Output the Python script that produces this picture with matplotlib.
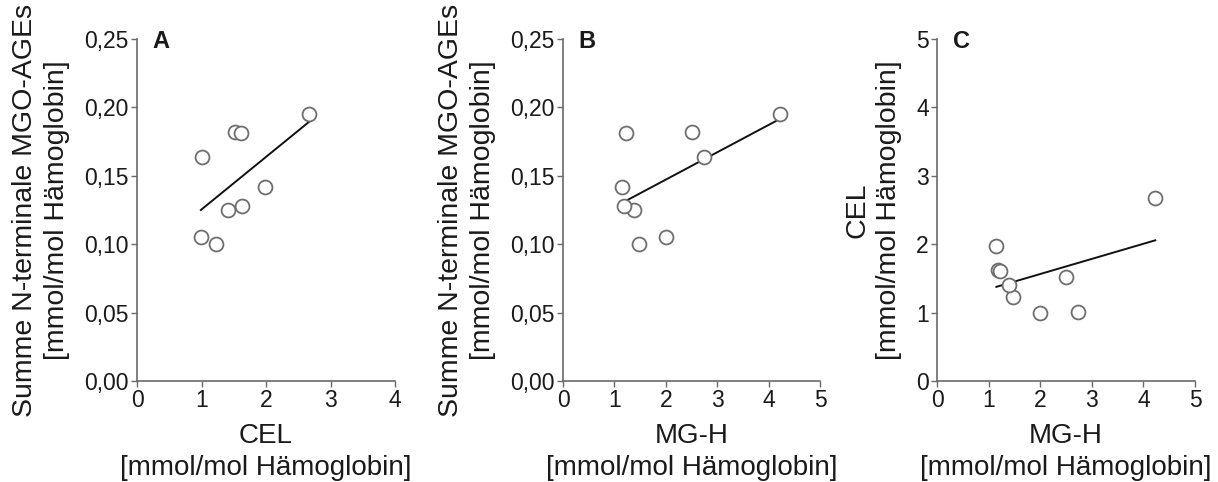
import numpy as np
import matplotlib
matplotlib.use("Agg")
import matplotlib.pyplot as plt
from matplotlib.ticker import FuncFormatter

plt.rcParams['font.family'] = ['Liberation Sans', 'DejaVu Sans']

# Per-sample values (mmol/mol Hämoglobin)
cel = [0.99, 1.01, 1.23, 1.41, 1.52, 1.63, 1.61, 1.98, 2.67]
mgh = [2.00, 2.74, 1.47, 1.39, 2.50, 1.18, 1.22, 1.15, 4.23]
mgo_sum = [0.105, 0.164, 0.100, 0.125, 0.182, 0.128, 0.1815, 0.142, 0.195]

panels = [
    dict(letter="A", x=cel, y=mgo_sum, xlim=(0, 4), xticks=[0, 1, 2, 3, 4],
         ylim=(0, 0.25), yticks=[0, 0.05, 0.10, 0.15, 0.20, 0.25],
         xlabel="CEL", ylabel="Summe N-terminale MGO-AGEs", comma=True,
         box=(137, 395)),
    dict(letter="B", x=mgh, y=mgo_sum, xlim=(0, 5), xticks=[0, 1, 2, 3, 4, 5],
         ylim=(0, 0.25), yticks=[0, 0.05, 0.10, 0.15, 0.20, 0.25],
         xlabel="MG-H", ylabel="Summe N-terminale MGO-AGEs", comma=True,
         box=(563, 820)),
    dict(letter="C", x=mgh, y=cel, xlim=(0, 5), xticks=[0, 1, 2, 3, 4, 5],
         ylim=(0, 5), yticks=[0, 1, 2, 3, 4, 5],
         xlabel="MG-H", ylabel="CEL", comma=False,
         box=(937, 1195)),
]

W, H = 1218, 482
fig = plt.figure(figsize=(W / 100, H / 100), dpi=100)
top_px, bottom_px = 39, 381
unit = "[mmol/mol Hämoglobin]"
spine_col = "#6a6a6a"
text_col = "#1a1a1a"

for p in panels:
    l, r = p["box"]
    ax = fig.add_axes([l / W, 1 - bottom_px / H, (r - l) / W, (bottom_px - top_px) / H])
    x = np.array(p["x"]); y = np.array(p["y"])
    ax.scatter(x, y, s=100, facecolors="white", edgecolors="#6e6e6e",
               linewidths=1.3, zorder=3, clip_on=False)
    k, b = np.polyfit(x, y, 1)
    xs = np.array([x.min(), x.max()])
    ax.plot(xs, k * xs + b, color="#111111", lw=1.4, zorder=2)
    ax.set_xlim(*p["xlim"]); ax.set_ylim(*p["ylim"])
    ax.set_xticks(p["xticks"]); ax.set_yticks(p["yticks"])
    if p["comma"]:
        ax.yaxis.set_major_formatter(FuncFormatter(lambda v, _: f"{v:.2f}".replace(".", ",")))
    for s in ("top", "right"):
        ax.spines[s].set_visible(False)
    for s in ("left", "bottom"):
        ax.spines[s].set_color(spine_col)
        ax.spines[s].set_linewidth(1.2)
    ax.tick_params(direction="out", length=4, width=1.0, color=spine_col,
                   labelsize=16.5, labelcolor=text_col, pad=2)
    ax.set_xlabel(p["xlabel"] + "\n" + unit, fontsize=20, color=text_col,
                  linespacing=1.3, labelpad=7.5)
    ax.set_ylabel(p["ylabel"] + "\n" + unit, fontsize=20.5, color=text_col,
                  linespacing=1.3, labelpad=10)
    ax.text(l / W + 0.013, 1 - 48 / H, p["letter"], transform=fig.transFigure,
            fontsize=17, fontweight="bold", color=text_col, ha="left", va="baseline")

fig.savefig("out.png", dpi=100)
